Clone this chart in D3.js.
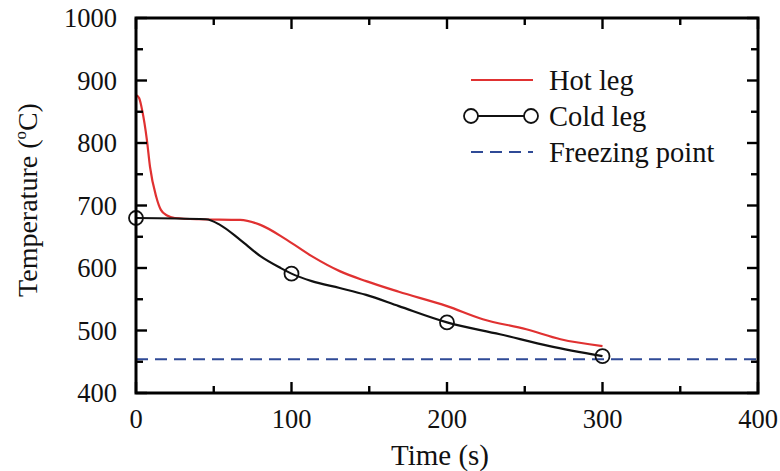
<!DOCTYPE html>
<html>
<head>
<meta charset="utf-8">
<script src="https://cdn.jsdelivr.net/npm/d3@7"></script>
<style>
  body { margin: 0; background: #fff; }
</style>
</head>
<body>
<div id="chart"></div>
<script>
// Hot leg temperature
const hotTime = [0, 2, 4, 7, 9, 13, 16, 20, 25, 40, 67, 80, 97, 113, 131, 148, 169, 200, 223, 251, 273, 300];
const hotTemp = [877, 872, 852, 805, 762, 714, 693, 684, 680, 678, 677, 669, 645, 619, 595, 579, 562, 539, 518, 502, 486, 475];

// Cold leg temperature
const coldTime = [0, 45, 54, 67, 80, 93, 100, 113, 131, 148, 169, 200, 234, 266, 300];
const coldTemp = [680, 678, 669, 645, 619, 600, 591, 579, 568, 557, 539, 513, 494, 475, 459];
const coldMarkerTime = [0, 100, 200, 300];

const freezingPoint = 454;

const xTicks = [0, 100, 200, 300, 400];
const yTicks = [400, 500, 600, 700, 800, 900, 1000];

const legendNames = ["Hot leg", "Cold leg", "Freezing point"];

const FONT = "'Liberation Serif', 'Times New Roman', Times, 'DejaVu Serif', serif";

const W = 780, H = 471;
const margin = { top: 18, right: 22, bottom: 78, left: 136 };
const width = W - margin.left - margin.right;
const height = H - margin.top - margin.bottom;

const svg = d3.select("#chart").append("svg")
    .attr("width", W)
    .attr("height", H)
    .style("font-family", FONT);

const g = svg.append("g")
    .attr("transform", "translate(" + margin.left + "," + margin.top + ")");

const x = d3.scaleLinear().domain([0, 400]).range([0, width]);
const y = d3.scaleLinear().domain([400, 1000]).range([height, 0]);

const hotData = hotTime.map((t, i) => ({ t: t, v: hotTemp[i] }));
const coldData = coldTime.map((t, i) => ({ t: t, v: coldTemp[i] }));

const line = d3.line()
    .x(d => x(d.t))
    .y(d => y(d.v))
    .curve(d3.curveMonotoneX);

// freezing point
g.append("line")
    .attr("x1", x(0)).attr("x2", x(400))
    .attr("y1", y(freezingPoint)).attr("y2", y(freezingPoint))
    .attr("stroke", "#2f4a96")
    .attr("stroke-width", 2.2)
    .attr("stroke-dasharray", "12,7");

g.append("path")
    .datum(hotData)
    .attr("d", line)
    .attr("fill", "none")
    .attr("stroke", "#e03131")
    .attr("stroke-width", 2.2);

g.append("path")
    .datum(coldData)
    .attr("d", line)
    .attr("fill", "none")
    .attr("stroke", "#111")
    .attr("stroke-width", 2.2);

// markers on cold leg
g.selectAll(".marker")
    .data(coldMarkerTime)
    .enter()
    .append("circle")
    .attr("class", "marker")
    .attr("cx", d => x(d))
    .attr("cy", d => y(coldTemp[coldTime.indexOf(d)]))
    .attr("r", 7)
    .attr("fill", "none")
    .attr("stroke", "#111")
    .attr("stroke-width", 1.8);

// axes: ticks inward on all four sides
const minorX = d3.range(0, 401, 50);
const minorY = d3.range(400, 1001, 50);

function tickLen(v) { return v % 100 === 0 ? 11 : 7; }

const axes = g.append("g").attr("stroke", "#000").attr("stroke-width", 2.4);

minorX.forEach(v => {
    axes.append("line").attr("x1", x(v)).attr("x2", x(v))
        .attr("y1", height).attr("y2", height - tickLen(v));
    axes.append("line").attr("x1", x(v)).attr("x2", x(v))
        .attr("y1", 0).attr("y2", tickLen(v));
});
minorY.forEach(v => {
    axes.append("line").attr("x1", 0).attr("x2", tickLen(v))
        .attr("y1", y(v)).attr("y2", y(v));
    axes.append("line").attr("x1", width).attr("x2", width - tickLen(v))
        .attr("y1", y(v)).attr("y2", y(v));
});

axes.append("rect")
    .attr("x", 0).attr("y", 0)
    .attr("width", width).attr("height", height)
    .attr("fill", "none")
    .attr("stroke-width", 3);

// tick labels
g.selectAll(".xlab")
    .data(xTicks)
    .enter()
    .append("text")
    .attr("x", d => x(d))
    .attr("y", height + 35)
    .attr("text-anchor", "middle")
    .attr("fill", "#111")
    .style("font-size", "26.5px")
    .text(d => d);

g.selectAll(".ylab")
    .data(yTicks)
    .enter()
    .append("text")
    .attr("x", -19)
    .attr("y", d => y(d) + 9)
    .attr("text-anchor", "end")
    .attr("fill", "#111")
    .style("font-size", "26.5px")
    .text(d => d);

// axis titles
g.append("text")
    .attr("x", width / 2 - 7)
    .attr("y", height + 72)
    .attr("text-anchor", "middle")
    .attr("fill", "#111")
    .style("font-size", "29px")
    .text("Time (s)");

const yTitle = svg.append("text")
    .attr("transform", "translate(37," + (margin.top + 182) + ") rotate(-90)")
    .attr("text-anchor", "middle")
    .attr("fill", "#111")
    .style("font-size", "28px");
yTitle.append("tspan").text("Temperature (");
yTitle.append("tspan").attr("dy", -11).style("font-size", "17px").text("o");
yTitle.append("tspan").attr("dy", 11).text("C)");

// legend
const legend = svg.append("g").attr("transform", "translate(471,80)");
const rowH = 36;

legend.append("line")
    .attr("x1", 0).attr("x2", 62).attr("y1", 0).attr("y2", 0)
    .attr("stroke", "#e03131").attr("stroke-width", 2.2);

legend.append("line")
    .attr("x1", 0).attr("x2", 60).attr("y1", rowH).attr("y2", rowH)
    .attr("stroke", "#111").attr("stroke-width", 2.2);
[0, 60].forEach(cx => {
    legend.append("circle")
        .attr("cx", cx).attr("cy", rowH).attr("r", 7)
        .attr("fill", "#fff").attr("stroke", "#111").attr("stroke-width", 1.8);
});

legend.append("line")
    .attr("x1", 0).attr("x2", 62).attr("y1", rowH * 2).attr("y2", rowH * 2)
    .attr("stroke", "#2f4a96").attr("stroke-width", 2.2)
    .attr("stroke-dasharray", "12,7");

legendNames.forEach((name, i) => {
    legend.append("text")
        .attr("x", 78)
        .attr("y", i * rowH + 10)
        .attr("fill", "#111")
        .style("font-size", "28.5px")
        .text(name);
});
</script>
</body>
</html>
